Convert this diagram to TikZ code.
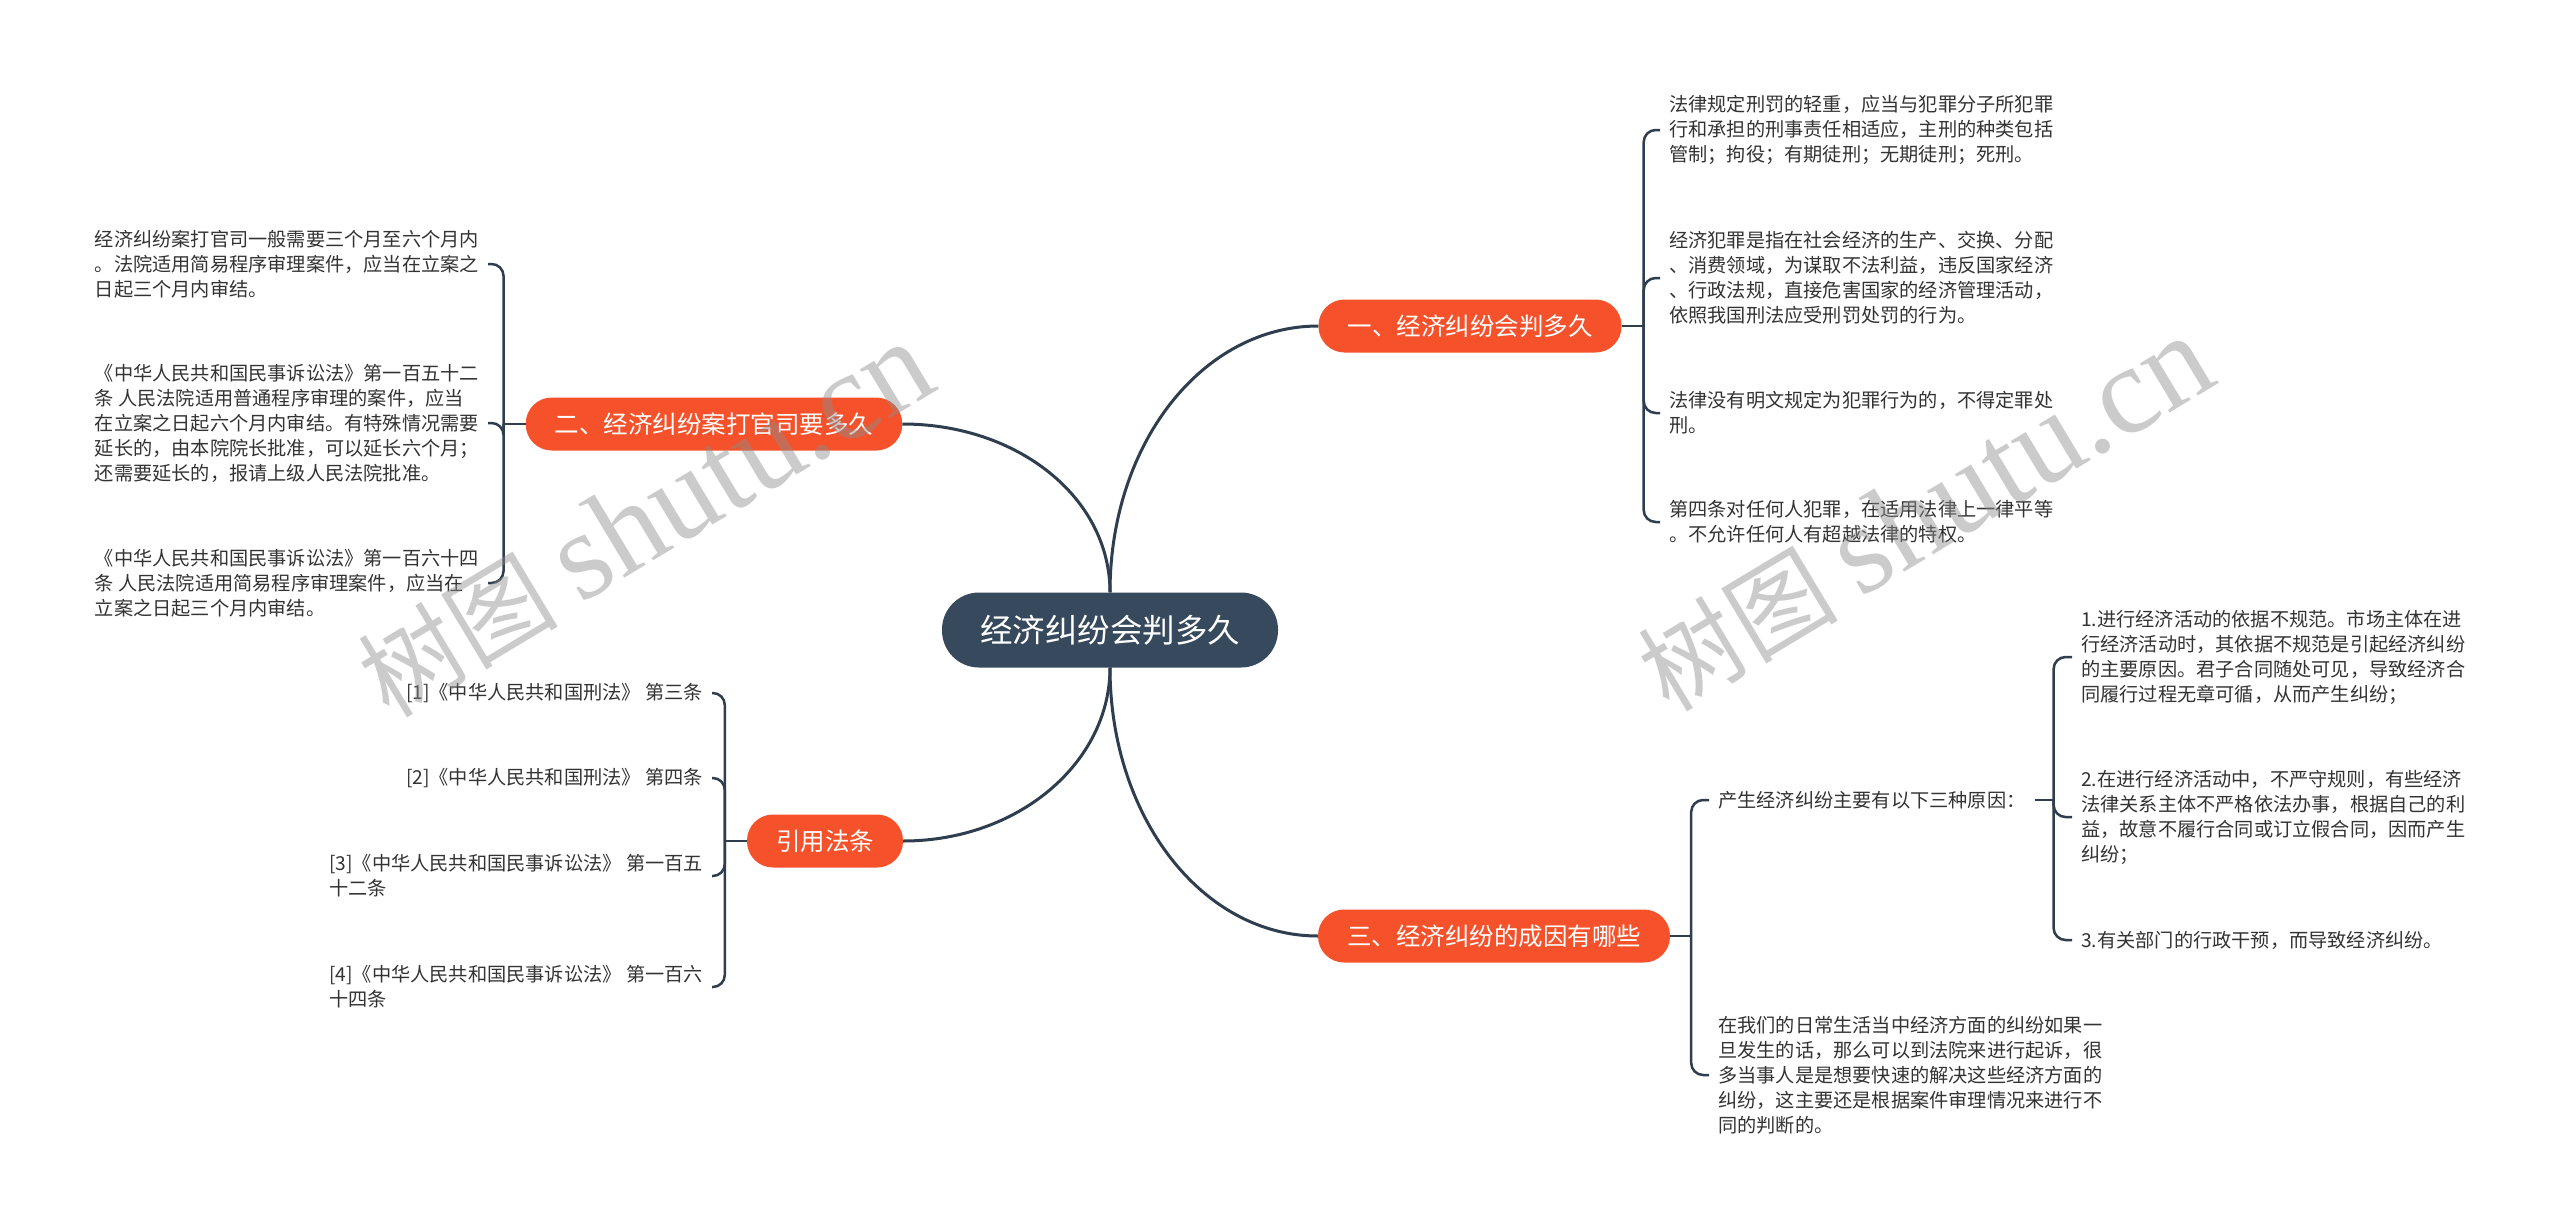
\documentclass[tikz,border=0pt]{standalone}
\usepackage{fontspec}
\setmainfont{Noto Sans CJK SC}
\newfontfamily\stampserif{Liberation Serif}
\usepackage{xcolor}
\usepackage{tikz}
\usetikzlibrary{positioning}
\definecolor{rootblue}{HTML}{36495D}
\definecolor{topicred}{HTML}{F5522C}
\definecolor{linkdark}{HTML}{2E3E4E}
\definecolor{leafgray}{HTML}{333333}

\begin{document}
\begin{tikzpicture}[
    x=1pt, y=-1pt,
    root/.style={fill=rootblue, rounded corners=37pt, minimum height=75pt, inner xsep=38pt, inner ysep=0pt, text=white, font=\fontsize{32.5}{36}\selectfont},
    topic/.style={fill=topicred, rounded corners=26pt, minimum height=53pt, inner xsep=29pt, inner ysep=0pt, text=white, font=\fontsize{24.5}{28}\selectfont},
    leaf/.style={align=left, inner xsep=9pt, inner ysep=2pt, text=leafgray, font=\fontsize{19.2}{25}\selectfont},
    link/.style={draw=linkdark, line width=3pt},
    brace/.style={draw=linkdark, line width=2.5pt, rounded corners=12pt},
    stamp/.style={text=black!45, opacity=0.45, rotate=31, inner sep=0pt}
]
\path[use as bounding box, fill=white] (0,0) rectangle (2560,1229);

\node[root] (root) at (1110,630) {经济纠纷会判多久};
\node[topic] (howlong) at (1470,326) {一、经济纠纷会判多久};
\node[topic] (lawsuit) at (714,424) {二、经济纠纷案打官司要多久};
\node[topic] (causes) at (1494,936) {三、经济纠纷的成因有哪些};
\node[topic] (cite) at (825,841) {引用法条};

\node[leaf, anchor=west] (penalty) at (1660,130) {法律规定刑罚的轻重，应当与犯罪分子所犯罪\\行和承担的刑事责任相适应，主刑的种类包括\\管制；拘役；有期徒刑；无期徒刑；死刑。};
\node[leaf, anchor=west] (crime) at (1660,278) {经济犯罪是指在社会经济的生产、交换、分配\\、消费领域，为谋取不法利益，违反国家经济\\、行政法规，直接危害国家的经济管理活动，\\依照我国刑法应受刑罚处罚的行为。};
\node[leaf, anchor=west] (nolaw) at (1660,413) {法律没有明文规定为犯罪行为的，不得定罪处\\刑。};
\node[leaf, anchor=west] (equal) at (1660,522) {第四条对任何人犯罪，在适用法律上一律平等\\。不允许任何人有超越法律的特权。};

\node[leaf, anchor=east] (months) at (488,264) {经济纠纷案打官司一般需要三个月至六个月内\\。法院适用简易程序审理案件，应当在立案之\\日起三个月内审结。};
\node[leaf, anchor=east] (art152) at (488,423) {《中华人民共和国民事诉讼法》第一百五十二\\条 人民法院适用普通程序审理的案件，应当\\在立案之日起六个月内审结。有特殊情况需要\\延长的，由本院院长批准，可以延长六个月；\\还需要延长的，报请上级人民法院批准。};
\node[leaf, anchor=east] (art164) at (488,583) {《中华人民共和国民事诉讼法》第一百六十四\\条 人民法院适用简易程序审理案件，应当在\\立案之日起三个月内审结。};

\node[leaf, anchor=west] (three) at (1709,800) {产生经济纠纷主要有以下三种原因：};
\node[leaf, anchor=west] (daily) at (1709,1075) {在我们的日常生活当中经济方面的纠纷如果一\\旦发生的话，那么可以到法院来进行起诉，很\\多当事人是是想要快速的解决这些经济方面的\\纠纷，这主要还是根据案件审理情况来进行不\\同的判断的。};
\node[leaf, anchor=west] (reason1) at (2072,657) {1.进行经济活动的依据不规范。市场主体在进\\行经济活动时，其依据不规范是引起经济纠纷\\的主要原因。君子合同随处可见，导致经济合\\同履行过程无章可循，从而产生纠纷；};
\node[leaf, anchor=west] (reason2) at (2072,817) {2.在进行经济活动中，不严守规则，有些经济\\法律关系主体不严格依法办事，根据自己的利\\益，故意不履行合同或订立假合同，因而产生\\纠纷；};
\node[leaf, anchor=west] (reason3) at (2072,940) {3.有关部门的行政干预，而导致经济纠纷。};

\node[leaf, anchor=east] (ref1) at (712,693) {[1]《中华人民共和国刑法》 第三条};
\node[leaf, anchor=east] (ref2) at (712,778) {[2]《中华人民共和国刑法》 第四条};
\node[leaf, anchor=east] (ref3) at (712,876) {[3]《中华人民共和国民事诉讼法》 第一百五\\十二条};
\node[leaf, anchor=east] (ref4) at (712,987) {[4]《中华人民共和国民事诉讼法》 第一百六\\十四条};

\coordinate (j1) at ([xshift=22pt]howlong.east);
\coordinate (j2) at ([xshift=-22pt]lawsuit.west);
\coordinate (j3) at ([xshift=21pt]causes.east);
\coordinate (j4) at ([xshift=19pt]three.east);
\coordinate (j5) at ([xshift=-22pt]cite.west);

\draw[link] (root.north) .. controls +(0,-150) and +(-115,0) .. (howlong.west);
\draw[link] (root.north) .. controls +(0,-95) and +(115,0) .. (lawsuit.east);
\draw[link] (root.south) .. controls +(0,150) and +(-115,0) .. (causes.west);
\draw[link] (root.south) .. controls +(0,95) and +(115,0) .. (cite.east);

\draw[brace] (howlong.east) -- (j1);
\draw[brace] (j1) |- (penalty.west);
\draw[brace] (j1) |- (crime.west);
\draw[brace] (j1) |- (nolaw.west);
\draw[brace] (j1) |- (equal.west);

\draw[brace] (lawsuit.west) -- (j2);
\draw[brace] (j2) |- (months.east);
\draw[brace] (j2) |- (art152.east);
\draw[brace] (j2) |- (art164.east);

\draw[brace] (causes.east) -- (j3);
\draw[brace] (j3) |- (three.west);
\draw[brace] (j3) |- (daily.west);

\draw[brace] (three.east) -- (j4);
\draw[brace] (j4) |- (reason1.west);
\draw[brace] (j4) |- (reason2.west);
\draw[brace] (j4) |- (reason3.west);

\draw[brace] (cite.west) -- (j5);
\draw[brace] (j5) |- (ref1.east);
\draw[brace] (j5) |- (ref2.east);
\draw[brace] (j5) |- (ref3.east);
\draw[brace] (j5) |- (ref4.east);

\node[stamp] (stampleft) at (645,520) {\fontsize{100}{110}\selectfont 树图 \stampserif\fontsize{125}{130}\selectfont shutu.cn};
\node[stamp] (stampright) at (1925,514) {\fontsize{100}{110}\selectfont 树图 \stampserif\fontsize{125}{130}\selectfont shutu.cn};
\end{tikzpicture}
\end{document}
